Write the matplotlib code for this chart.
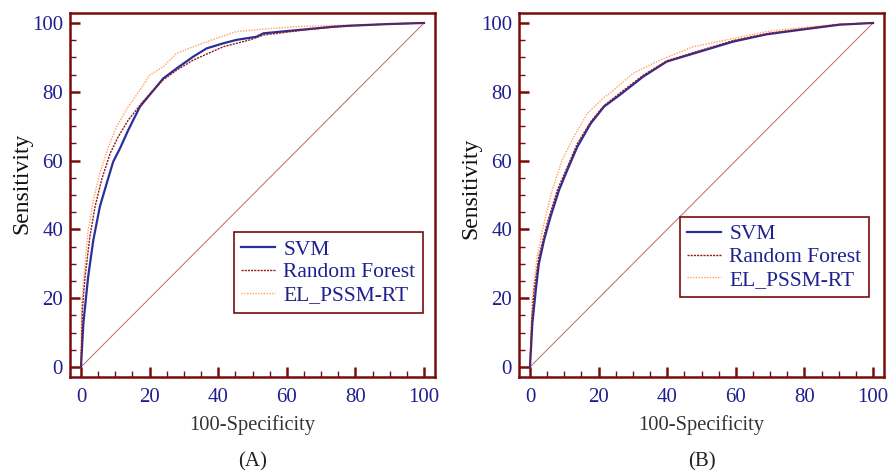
import matplotlib
matplotlib.use("Agg")
import matplotlib.pyplot as plt
from matplotlib.ticker import MultipleLocator

# ---- data (100-Specificity, Sensitivity) ----
svm_a_x = [0, 0.7, 2.1, 3.6, 5.5, 7.5, 9.4, 11.4, 13.8, 17.2, 19.6, 24.0, 27.9, 32.7, 36.6, 41.5, 45.4, 51.2, 53.2, 63.8, 73.5, 78.4, 90, 100]
svm_a_y = [0, 12.8, 26.3, 36.9, 46.6, 53.4, 59.7, 63.6, 68.9, 75.7, 78.6, 83.9, 86.8, 90.2, 92.6, 94.1, 95.1, 96.0, 97.0, 98.0, 98.9, 99.2, 99.7, 100]
rf_a_x = [0, 0.4, 1.2, 2.6, 4.1, 6.0, 8.5, 10.9, 13.8, 17.7, 20.1, 24.0, 27.9, 32.7, 41.5, 49.3, 53.2, 63.8, 73.5, 78.4, 90, 100]
rf_a_y = [0, 16.6, 26.3, 37.9, 46.6, 54.4, 62.1, 67.0, 71.8, 76.7, 79.4, 83.5, 86.3, 89.2, 93.1, 95.1, 96.5, 97.8, 98.8, 99.2, 99.7, 100]
el_a_x = [0, 0.2, 1.2, 2.1, 3.6, 5.5, 8.0, 10.4, 13.8, 17.2, 20.1, 24.0, 27.9, 32.7, 39.6, 45.4, 54.1, 63.8, 78.4, 90, 100]
el_a_y = [0, 18.5, 30.2, 39.8, 48.5, 56.3, 64.0, 69.9, 75.7, 80.5, 84.9, 87.3, 91.2, 93.1, 95.6, 97.5, 98.3, 99.0, 99.4, 99.8, 100]

svm_b_x = [0, 0.7, 1.7, 2.6, 4.1, 6.0, 8.5, 10.9, 13.8, 17.7, 21.6, 26.2, 33.0, 39.9, 49.6, 59.3, 69.0, 78.7, 90.3, 100]
svm_b_y = [0, 12.8, 22.4, 30.1, 36.9, 43.7, 51.5, 57.3, 64.0, 70.8, 75.7, 79.1, 84.4, 88.8, 91.7, 94.6, 96.7, 98.0, 99.5, 100]
rf_b_x = [0, 0.5, 1.2, 2.6, 5.0, 8.0, 10.9, 13.8, 17.7, 21.6, 26.2, 33.0, 39.9, 49.6, 59.3, 69.0, 78.7, 90.3, 100]
rf_b_y = [0, 13.5, 22.4, 32.1, 41.8, 51.5, 58.2, 64.9, 71.3, 76.0, 79.6, 84.8, 89.0, 92.0, 94.9, 96.9, 98.2, 99.6, 100]
el_b_x = [0, 0.7, 2.1, 4.1, 6.5, 9.4, 12.8, 16.7, 21.6, 23.3, 30.1, 37.9, 47.6, 59.3, 69.0, 78.7, 90.3, 100]
el_b_y = [0, 20.4, 32.1, 41.8, 51.5, 60.2, 66.9, 73.7, 78.4, 79.6, 85.4, 89.2, 93.1, 95.5, 97.5, 98.6, 99.7, 100]

labels = ["SVM", "Random Forest", "EL_PSSM-RT"]
panels = ["(A)", "(B)"]
xticks = [0, 20, 40, 60, 80, 100]

plt.rcParams['font.family'] = ['Liberation Serif', 'DejaVu Serif']

MAROON = "#7b0a0a"
NAVY = "#1f1f8f"
SVM_C = "#2b2f9a"
RF_C = "#8e1a1a"
EL_C = "#ffa060"
DIAG_C = "#b86a6a"

fig = plt.figure(figsize=(8.91, 4.70), dpi=100)
W, H = 891.0, 470.0

data = [
    ((svm_a_x, svm_a_y), (rf_a_x, rf_a_y), (el_a_x, el_a_y)),
    ((svm_b_x, svm_b_y), (rf_b_x, rf_b_y), (el_b_x, el_b_y)),
]
ax_left_px = [70, 519]
leg_anchor = [(0.449, 0.398), (0.441, 0.44)]
ylabel_pos = [(22, 183), (471, 188)]

for i in range(2):
    lp = ax_left_px[i]
    ax = fig.add_axes([lp / W, (H - 377) / H, 365 / W, 364 / H])
    (sx, sy), (rx, ry), (ex, ey) = data[i]
    ax.plot([0, 100], [0, 100], color=DIAG_C, lw=0.7, zorder=1)
    ax.plot(sx, sy, color=SVM_C, lw=1.6, label=labels[0], zorder=3)
    ax.plot(rx, ry, color=RF_C, lw=1.0, ls=(0, (1.5, 0.8)), label=labels[1], zorder=4)
    ax.plot(ex, ey, color=EL_C, lw=1.0, ls=(0, (1, 1)), label=labels[2], zorder=2)

    ax.set_xlim(-3.2, 103.2)
    ax.set_ylim(-2.9, 102.9)
    ax.xaxis.set_minor_locator(MultipleLocator(5))
    ax.yaxis.set_minor_locator(MultipleLocator(5))
    ax.set_xticks(xticks)
    ax.set_yticks(xticks)
    ax.tick_params(which='major', direction='in', length=7, width=1.8, color=MAROON,
                   labelcolor=NAVY, labelsize=15, top=False, right=False)
    ax.tick_params(axis='x', which='major', pad=8)
    ax.tick_params(axis='y', which='major', pad=5)
    ax.tick_params(which='minor', direction='in', length=4.5, width=1.0, color=MAROON,
                   top=False, right=False)
    for sp in ax.spines.values():
        sp.set_color(MAROON)
        sp.set_linewidth(1.8)

    leg = ax.legend(loc='upper left', bbox_to_anchor=leg_anchor[i], borderaxespad=0,
                    fancybox=False, edgecolor=MAROON, framealpha=1, fontsize=15.5,
                    handlelength=1.55, handletextpad=0.4, labelspacing=0.12,
                    borderpad=0.35)
    leg.get_frame().set_linewidth(1.2)
    for t in leg.get_texts():
        t.set_color(NAVY)

    cx = (lp + 11 + 171.5) / W
    fig.text(cx, 1 - 425 / H, "100-Specificity", ha='center', va='center',
             fontsize=14.8, color="#333333")
    fig.text(cx, 1 - 462 / H, panels[i], ha='center', va='center',
             fontsize=15, color="#222222")
    yx, yy = ylabel_pos[i]
    fig.text(yx / W, 1 - yy / H, "Sensitivity", rotation=90, ha='center', va='center',
             fontsize=17, color="#111111")

fig.savefig("out.png", dpi=100)
